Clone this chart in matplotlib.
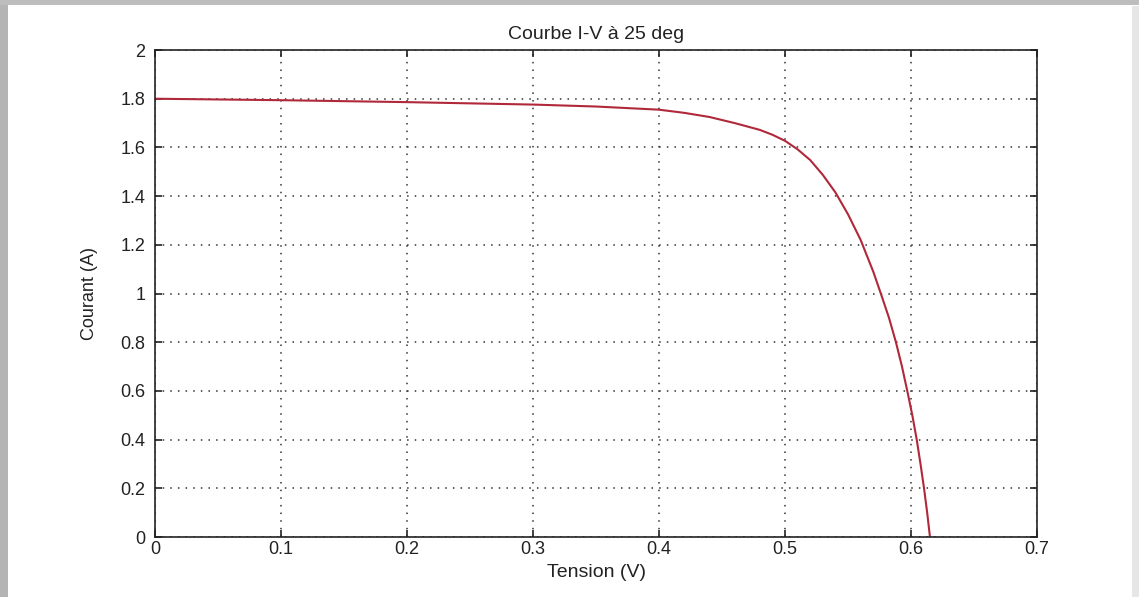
import matplotlib
matplotlib.use("Agg")
import matplotlib.pyplot as plt
from matplotlib.patches import Rectangle

# I-V curve
tension = [0.0, 0.05, 0.1, 0.15, 0.2, 0.25, 0.3, 0.35, 0.4, 0.42, 0.44, 0.46,
           0.48, 0.49, 0.5, 0.51, 0.52, 0.53, 0.54, 0.55, 0.56, 0.57, 0.576,
           0.5825, 0.588, 0.5928, 0.597, 0.601, 0.6045, 0.6075, 0.6103, 0.6128, 0.615]
courant = [1.800, 1.797, 1.794, 1.790, 1.786, 1.781, 1.776, 1.768, 1.755, 1.742,
           1.725, 1.700, 1.672, 1.652, 1.627, 1.592, 1.548, 1.487, 1.415, 1.325,
           1.220, 1.090, 1.000, 0.900, 0.800, 0.700, 0.600, 0.500, 0.400, 0.300,
           0.200, 0.100, 0.0]

x_ticks = [0, 0.1, 0.2, 0.3, 0.4, 0.5, 0.6, 0.7]
y_ticks = [0, 0.2, 0.4, 0.6, 0.8, 1, 1.2, 1.4, 1.6, 1.8, 2]

plt.rcParams['font.family'] = ['Liberation Sans', 'DejaVu Sans']

fig = plt.figure(figsize=(11.39, 5.97), dpi=100)
fig.patch.set_facecolor('white')

# grey shadow frame around the screenshot
fig.patches.append(Rectangle((0, 0), 0.007, 1, transform=fig.transFigure,
                             facecolor='#b4b4b4', edgecolor='none'))
fig.patches.append(Rectangle((0, 0.992), 1, 0.008, transform=fig.transFigure,
                             facecolor='#bdbdbd', edgecolor='none'))
fig.patches.append(Rectangle((0.994, 0), 0.006, 0.99, transform=fig.transFigure,
                             facecolor='#e6e6e6', edgecolor='none'))

ax = fig.add_axes([0.1361, 0.1005, 0.7744, 0.8157])
ax.plot(tension, courant, color='#b0283a', linewidth=1.5)

ax.set_xlim(0, 0.7)
ax.set_ylim(0, 2)
ax.set_xticks(x_ticks)
ax.set_yticks(y_ticks)
ax.set_xticklabels([f'{t:g}' for t in x_ticks])
ax.set_yticklabels([f'{t:g}' for t in y_ticks])

ax.grid(True, linestyle=(0, (1, 4)), color='#333333', linewidth=1.1)
ax.tick_params(direction='in', length=5, width=1.2, top=True, right=True,
               labelsize=13, colors='#222222')
ax.tick_params(axis='y', pad=7)
ax.tick_params(axis='x', pad=3)
for s in ax.spines.values():
    s.set_linewidth(1.2)
    s.set_color('#222222')

ax.set_title('Courbe I-V à 25 deg', fontsize=14, color='#222222', pad=8)
ax.set_xlabel('Tension (V)', fontsize=14, color='#222222', labelpad=4)
ax.set_ylabel('Courant (A)', fontsize=13, color='#222222', labelpad=16)

fig.savefig('out.png', dpi=100)
